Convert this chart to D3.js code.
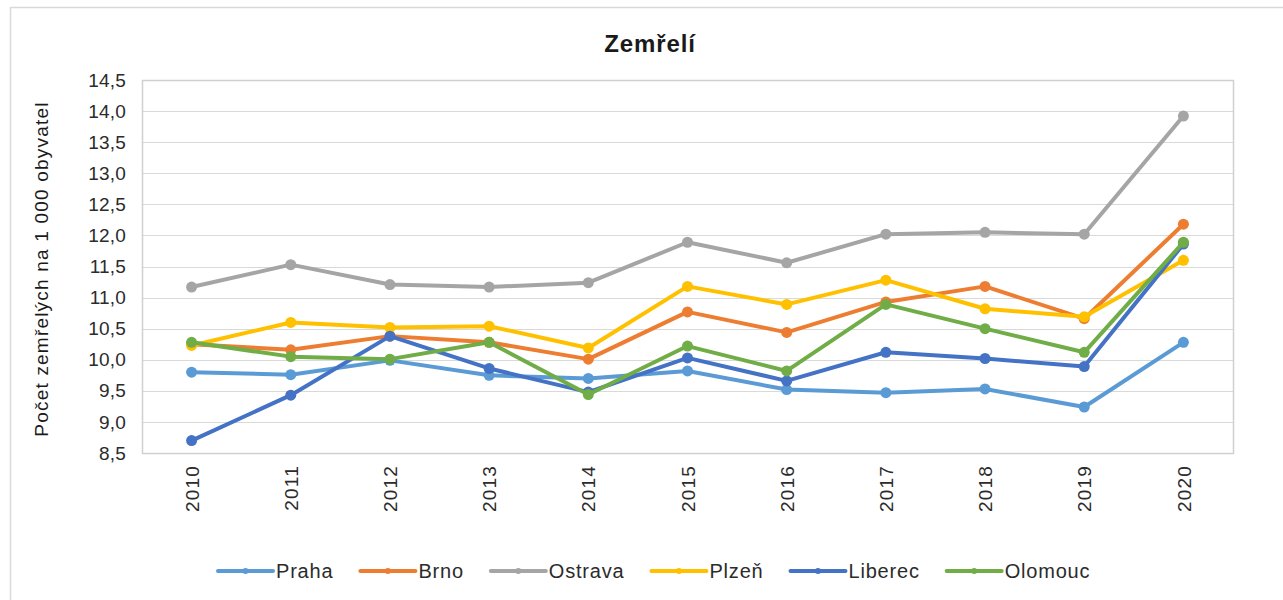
<!DOCTYPE html>
<html><head><meta charset="utf-8">
<script src="https://cdn.jsdelivr.net/npm/d3@7"></script>
<style>body{margin:0;background:#fff;} svg{display:block;font-family:"Liberation Sans",Arial,sans-serif;}</style>
</head><body><svg id="c" width="1283" height="600"></svg>
<script>
const years = ["2010","2011","2012","2013","2014","2015","2016","2017","2018","2019","2020"];
const seriesNames = ["Praha","Brno","Ostrava","Plzeň","Liberec","Olomouc"];
const seriesColors = ["#5B9BD5","#ED7D31","#A5A5A5","#FFC000","#4472C4","#70AD47"];
const praha   = [9.80, 9.76, 9.99, 9.75, 9.70, 9.82, 9.52, 9.47, 9.53, 9.24, 10.28];
const brno    = [10.25, 10.16, 10.38, 10.28, 10.01, 10.77, 10.44, 10.93, 11.18, 10.66, 12.18];
const ostrava = [11.17, 11.53, 11.21, 11.17, 11.24, 11.89, 11.56, 12.02, 12.05, 12.02, 13.92];
const plzen   = [10.23, 10.60, 10.52, 10.54, 10.19, 11.18, 10.89, 11.28, 10.82, 10.69, 11.60];
const liberec = [8.70, 9.43, 10.38, 9.86, 9.48, 10.03, 9.66, 10.12, 10.02, 9.89, 11.86];
const olomouc = [10.28, 10.05, 10.01, 10.28, 9.44, 10.22, 9.82, 10.89, 10.50, 10.12, 11.89];
const yTicks = [8.5, 9.0, 9.5, 10.0, 10.5, 11.0, 11.5, 12.0, 12.5, 13.0, 13.5, 14.0, 14.5];
const title = "Zemřelí";
const yTitle = "Počet zemřelých na 1 000 obyvatel";

const allSeries = [praha, brno, ostrava, plzen, liberec, olomouc];
const svg = d3.select("#c");
const L = 142, R = 1233, T = 80, B = 453;
const txt = "#2b2b2b";

// outer frame
svg.append("path").attr("d","M10.5,600 V7.5 H1283").attr("fill","none").attr("stroke","#d9d9d9").attr("stroke-width",1.5);

const x = d3.scalePoint().domain(years).range([L, R]).padding(0.5);
const y = d3.scaleLinear().domain([8.5, 14.5]).range([B, T]);

// gridlines
svg.append("g").selectAll("line").data(yTicks).join("line")
  .attr("x1", L).attr("x2", R).attr("y1", d => Math.round(y(d))+0.5).attr("y2", d => Math.round(y(d))+0.5)
  .attr("stroke", "#d9d9d9").attr("stroke-width", 1.2);
svg.append("rect").attr("x", L+0.5).attr("y", T+0.5).attr("width", R-L).attr("height", B-T)
  .attr("fill","none").attr("stroke","#d0d0d0").attr("stroke-width",1.5);

// y axis
const fmt = d => d.toFixed(1).replace(".", ",");
const yAxis = d3.axisLeft(y).tickValues(yTicks).tickFormat(fmt).tickSize(0).tickPadding(0);
const ya = svg.append("g").attr("transform", `translate(${L-16},0)`).call(yAxis);
ya.select(".domain").remove();
ya.selectAll("text").attr("font-size", 19).attr("fill", txt).attr("letter-spacing", "0.2px")
  .attr("font-family", "Liberation Sans, Arial, sans-serif");

// x axis
const xAxis = d3.axisBottom(x).tickSize(0).tickPadding(0);
const xa = svg.append("g").attr("transform", `translate(0,${B})`).call(xAxis);
xa.select(".domain").remove();
xa.selectAll("text").attr("font-size", 19).attr("fill", txt).attr("letter-spacing", "1.2px")
  .attr("font-family", "Liberation Sans, Arial, sans-serif")
  .attr("text-anchor", "end").attr("transform", "rotate(-90)")
  .attr("x", -12).attr("y", 0).attr("dy", "0.35em");

// titles
svg.append("text").attr("x", 650).attr("y", 52).attr("text-anchor","middle")
  .attr("font-size", 24).attr("font-weight","bold").attr("letter-spacing","0.9px").attr("fill","#1a1a1a").text(title);
svg.append("text").attr("transform","translate(48,269) rotate(-90)").attr("text-anchor","middle")
  .attr("font-size", 19).attr("letter-spacing","1.2px").attr("fill","#1a1a1a").text(yTitle);

// lines
const line = d3.line().x((d,i) => x(years[i])).y(d => y(d));
allSeries.forEach((s, k) => {
  const g = svg.append("g");
  g.append("path").datum(s).attr("d", line).attr("fill","none")
    .attr("stroke", seriesColors[k]).attr("stroke-width", 4).attr("stroke-linejoin","round");
  g.selectAll("circle").data(s).join("circle")
    .attr("cx", (d,i) => x(years[i])).attr("cy", d => y(d)).attr("r", 5.5).attr("fill", seriesColors[k]);
});

// legend
const lg = svg.append("g");
let cx = 218;
const ly = 571;
seriesNames.forEach((n, k) => {
  lg.append("line").attr("x1", cx).attr("x2", cx+55).attr("y1", ly).attr("y2", ly)
    .attr("stroke", seriesColors[k]).attr("stroke-width", 4).attr("stroke-linecap","round");
  lg.append("circle").attr("cx", cx+27.5).attr("cy", ly).attr("r", 3).attr("fill", seriesColors[k]);
  const t = lg.append("text").attr("x", cx+58).attr("y", ly+7).attr("font-size", 20)
    .attr("letter-spacing","0.8px").attr("fill", txt).text(n);
  cx += 58 + t.node().getComputedTextLength() + 27;
});
</script></body></html>
